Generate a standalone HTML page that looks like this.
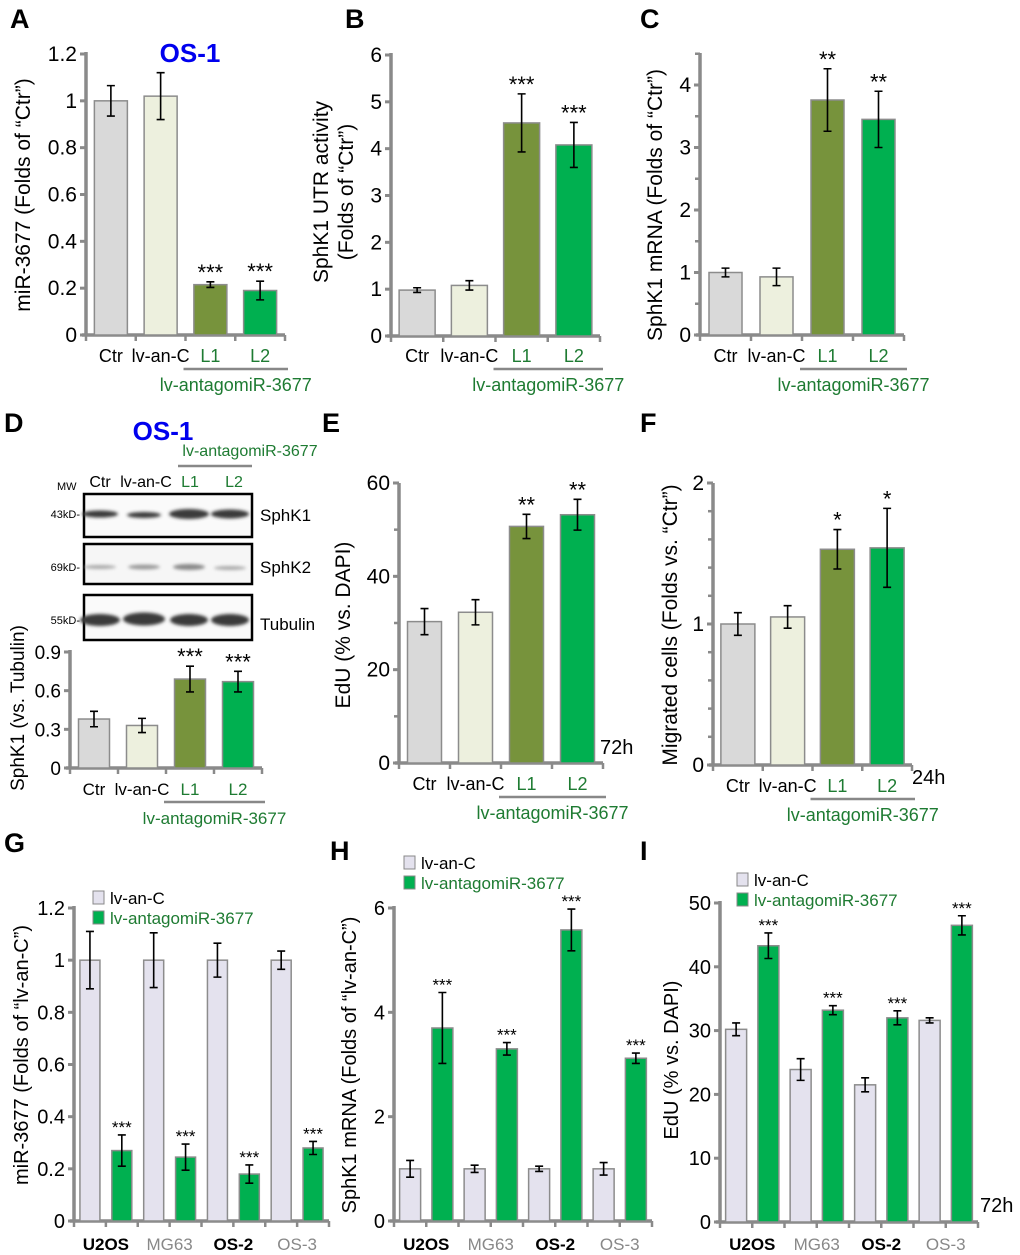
<!DOCTYPE html>
<html><head><meta charset="utf-8"><style>
body{margin:0;background:#fff}
svg{display:block;font-family:"Liberation Sans",Arial,sans-serif}
</style></head><body>
<svg id="fig" width="1020" height="1255" viewBox="0 0 1020 1255" xmlns="http://www.w3.org/2000/svg">
<defs><filter id="blur" x="-20%" y="-50%" width="140%" height="200%"><feGaussianBlur stdDeviation="1.6"/></filter></defs>
<g id="static" fill="#000">
<text x="10" y="28" font-size="27" font-weight="bold">A</text>
<text x="345" y="28" font-size="27" font-weight="bold">B</text>
<text x="640" y="28" font-size="27" font-weight="bold">C</text>
<text x="4" y="432" font-size="27" font-weight="bold">D</text>
<text x="322" y="432" font-size="27" font-weight="bold">E</text>
<text x="640" y="432" font-size="27" font-weight="bold">F</text>
<text x="4" y="852" font-size="27" font-weight="bold">G</text>
<text x="330" y="860" font-size="27" font-weight="bold">H</text>
<text x="640" y="860" font-size="27" font-weight="bold">I</text>
<text x="190" y="62" font-size="26" font-weight="bold" fill="#0000ee" text-anchor="middle">OS-1</text>
<text x="163" y="440" font-size="26" font-weight="bold" fill="#0000ee" text-anchor="middle">OS-1</text>
<text x="600" y="754" font-size="20">72h</text>
<text x="912" y="784" font-size="20">24h</text>
<text x="980" y="1212" font-size="20">72h</text>
<g>
<text x="250" y="456" font-size="16" fill="#1e7b32" text-anchor="middle">lv-antagomiR-3677</text>
<line x1="178" y1="466" x2="252" y2="466" stroke="#888" stroke-width="2.5"/>
<text x="57" y="490" font-size="11">MW</text>
<text x="100" y="487" font-size="16" text-anchor="middle">Ctr</text>
<text x="146" y="487" font-size="16" text-anchor="middle">lv-an-C</text>
<text x="190" y="487" font-size="16" text-anchor="middle" fill="#1e7b32">L1</text>
<text x="234" y="487" font-size="16" text-anchor="middle" fill="#1e7b32">L2</text>
<rect x="84" y="494" width="168" height="43" fill="#fafafa" stroke="#000" stroke-width="2.5"/>
<rect x="84" y="544" width="168" height="40" fill="#f6f6f6" stroke="#000" stroke-width="2.5"/>
<rect x="84" y="595" width="168" height="45" fill="#fafafa" stroke="#000" stroke-width="2.5"/>
<g filter="url(#blur)" fill="#3a3a3a">
<ellipse cx="100" cy="514" rx="18" ry="3.5"/><ellipse cx="144" cy="515" rx="17" ry="3"/><ellipse cx="189" cy="514" rx="20" ry="5"/><ellipse cx="230" cy="514" rx="19" ry="4.5"/>
<ellipse cx="100" cy="567" rx="16" ry="2" fill="#aaa"/><ellipse cx="144" cy="567" rx="16" ry="2.4" fill="#999"/><ellipse cx="189" cy="567" rx="16" ry="3" fill="#888"/><ellipse cx="230" cy="568" rx="16" ry="2" fill="#aaa"/>
<ellipse cx="100" cy="620" rx="20" ry="6"/><ellipse cx="144" cy="619" rx="21" ry="6.5"/><ellipse cx="189" cy="620" rx="19" ry="6"/><ellipse cx="230" cy="620" rx="19" ry="6"/>
</g>
<text x="80" y="518" font-size="11" text-anchor="end">43kD-</text>
<text x="80" y="571" font-size="11" text-anchor="end">69kD-</text>
<text x="80" y="624" font-size="11" text-anchor="end">55kD-</text>
<text x="260" y="521" font-size="17">SphK1</text>
<text x="260" y="573" font-size="17">SphK2</text>
<text x="260" y="630" font-size="17">Tubulin</text>
</g>
</g>
<g id="charts"></g>
</svg>
<script>
const catsAF = ["Ctr","lv-an-C","L1","L2"];
const aVals = [1.0, 1.02, 0.215, 0.19];
const aErrs = [0.065, 0.1, 0.012, 0.04];
const aStars = ["","","***","***"];
const aTicks = [0,0.2,0.4,0.6,0.8,1,1.2];
const bVals = [0.98, 1.08, 4.55, 4.08];
const bErrs = [0.05, 0.1, 0.62, 0.48];
const bStars = ["","","***","***"];
const bTicks = [0,1,2,3,4,5,6];
const cVals = [1.0, 0.93, 3.76, 3.45];
const cErrs = [0.07, 0.14, 0.5, 0.45];
const cStars = ["","","**","**"];
const cTicks = [0,1,2,3,4];
const dVals = [0.38, 0.33, 0.69, 0.67];
const dErrs = [0.06, 0.055, 0.1, 0.08];
const dStars = ["","","***","***"];
const dTicks = [0,0.3,0.6,0.9];
const eVals = [30.3, 32.3, 50.7, 53.2];
const eErrs = [2.8, 2.7, 2.6, 3.3];
const eStars = ["","","**","**"];
const eTicks = [0,20,40,60];
const fVals = [1.0, 1.05, 1.53, 1.54];
const fErrs = [0.08, 0.08, 0.14, 0.28];
const fStars = ["","","*","*"];
const fTicks = [0,1,2];
const cellLines = ["U2OS","MG63","OS-2","OS-3"];
const gCtrl = [1.0, 1.0, 1.0, 1.0];
const gCtrlErr = [0.11, 0.105, 0.065, 0.035];
const gAnta = [0.27, 0.245, 0.18, 0.28];
const gAntaErr = [0.06, 0.05, 0.035, 0.025];
const gTicks = [0,0.2,0.4,0.6,0.8,1,1.2];
const hCtrl = [1.0, 1.0, 1.0, 1.0];
const hCtrlErr = [0.16, 0.07, 0.05, 0.12];
const hAnta = [3.7, 3.3, 5.58, 3.12];
const hAntaErr = [0.68, 0.12, 0.4, 0.1];
const hTicks = [0,2,4,6];
const iCtrl = [30.2, 23.9, 21.5, 31.6];
const iCtrlErr = [1.0, 1.7, 1.1, 0.4];
const iAnta = [43.3, 33.2, 32.0, 46.5];
const iAntaErr = [2.0, 0.7, 1.1, 1.5];
const iTicks = [0,10,20,30,40,50];

const NS="http://www.w3.org/2000/svg";
const root=document.getElementById('charts');
function el(tag,attrs,parent,txt){const e=document.createElementNS(NS,tag);for(const k in attrs)e.setAttribute(k,attrs[k]);if(txt!==undefined)e.textContent=txt;(parent||root).appendChild(e);return e;}
const AX="#8a8a8a";
const GREEN_TXT="#1e7b32";

function axes(g,c){
  const yp=v=>c.y0-(v/c.vmax)*(c.y0-c.yTopPx);
  el('line',{x1:c.ax,y1:c.y0+1,x2:c.ax,y2:c.axTop,stroke:AX,'stroke-width':3.5},g);
  el('line',{x1:c.ax-4,y1:c.y0,x2:c.xEnd,y2:c.y0,stroke:AX,'stroke-width':3.5},g);
  const minor=c.minor||0;
  if(minor){for(let v=0;v<=c.vmax*1.0001+c.extraTop;v+=minor){const y=yp(v);el('line',{x1:c.ax-5,y1:y,x2:c.ax,y2:y,stroke:AX,'stroke-width':2.5},g);}}
  c.ticks.forEach(t=>{const y=yp(t);
    el('line',{x1:c.ax-6,y1:y,x2:c.ax,y2:y,stroke:AX,'stroke-width':3},g);
    const tx=el('text',{x:c.ax-9,y:y+7,'font-size':c.tickFs||21,'text-anchor':'end'},g,String(t));
    
    
  });
  const n=c.nSlots;
  for(let i=0;i<=n;i++){const x=c.ax+(c.xEnd-c.ax)*i/n;el('line',{x1:x,y1:c.y0,x2:x,y2:c.y0+6,stroke:AX,'stroke-width':2.5},g);}
  return yp;
}
function bar(g,x,w,v,e,col,yp,star,starFs,nm){
  const r=el('rect',{x:x,y:yp(v),width:w,height:yp(0)-yp(v),fill:col,stroke:'#8c8c8c','stroke-width':1.5},g);
  
  
  const cx=x+w/2,t=yp(v+e),b=yp(v-e);
  const eb=el('path',{d:`M${cx-4},${t}H${cx+4}M${cx},${t}V${b}M${cx-4},${b}H${cx+4}`,stroke:'#000','stroke-width':1.6,fill:'none'},g);
  
  
  if(star){const s=el('text',{x:cx,y:t-2,'font-size':starFs,'text-anchor':'middle'},g,star);
    
    }
}
function ytitle(g,x,y,lines,fs){
  lines.forEach((l,i)=>{const t=el('text',{x:0,y:0,'font-size':fs,'text-anchor':'middle',transform:`translate(${x+i*(fs+4)},${y}) rotate(-90)`},g,l);
    
    });
}
const colsAF=["#d9d9d9","#edf0de","#77933c","#00b050"];
function panel4(name,c,vals,errs,stars){
  const g=el('g',{});
  
  
  c.nSlots=4;
  const yp=axes(g,c);
  const slot=(c.xEnd-c.ax)/4;
  vals.forEach((v,i)=>{const x=c.ax+slot*i+(slot-c.bw)/2;bar(g,x,c.bw,v,errs[i],colsAF[i],yp,stars[i],c.starFs||22,'bar-'+catsAF[i].toLowerCase());});
  catsAF.forEach((k,i)=>{const cx=c.ax+slot*i+slot/2;
    const t=el('text',{x:cx,y:c.labY,'font-size':c.labFs||18,'text-anchor':'middle',fill:i>1?GREEN_TXT:'#000'},g,k);
    
    });
  const x1=c.ax+slot*2-2,x2=c.xEnd+3;
  el('line',{x1:x1,y1:c.labY+7,x2:x2,y2:c.labY+7,stroke:'#888','stroke-width':2.5},g);
  const gl=el('text',{x:(x1+x2)/2,y:c.labY+29,'font-size':c.labFs||18,'text-anchor':'middle',fill:GREEN_TXT},g,'lv-antagomiR-3677');
  
  
  ytitle(g,c.tx,c.ty,c.title,c.titleFs||21);
}
panel4('panel-a',{ax:86,y0:335,yTopPx:54,vmax:1.2,axTop:52,xEnd:285,extraTop:0,ticks:aTicks,bw:33,labY:362,tx:30,ty:195,title:["miR-3677 (Folds of “Ctr”)"]},aVals,aErrs,aStars);
panel4('panel-b',{ax:391,y0:336,yTopPx:55,vmax:6,axTop:53,xEnd:600,extraTop:0,ticks:bTicks,bw:36,labY:362,tx:328,ty:192,title:["SphK1 UTR activity","(Folds of “Ctr”)"]},bVals,bErrs,bStars);
panel4('panel-c',{ax:700,y0:335,yTopPx:85,vmax:4,axTop:53,xEnd:904,extraTop:0.5,minor:0.5,ticks:cTicks,bw:33,labY:362,tx:662,ty:205,title:["SphK1 mRNA (Folds of “Ctr”)"]},cVals,cErrs,cStars);
panel4('panel-d-chart',{ax:70,y0:768,yTopPx:652,vmax:0.9,axTop:650,xEnd:262,extraTop:0,ticks:dTicks,bw:31,labY:795,tx:24,ty:708,title:["SphK1 (vs. Tubulin)"],labFs:17,tickFs:19,titleFs:19},dVals,dErrs,dStars);
panel4('panel-e',{ax:399,y0:763,yTopPx:483,vmax:60,axTop:483,xEnd:603,extraTop:0,minor:10,ticks:eTicks,bw:34,labY:790,tx:350,ty:625,title:["EdU (% vs. DAPI)"]},eVals,eErrs,eStars);
panel4('panel-f',{ax:713,y0:765,yTopPx:483,vmax:2,axTop:483,xEnd:912,extraTop:0,minor:0.2,ticks:fTicks,bw:34,labY:792,tx:677,ty:625,title:["Migrated cells (Folds vs. “Ctr”)"]},fVals,fErrs,fStars);

function panelPair(name,c,ctrl,ce,anta,ae){
  const g=el('g',{});
  
  
  c.nSlots=8;c.extraTop=0;c.tickFs=20;
  const yp=axes(g,c);
  const slot=(c.xEnd-c.ax)/8;
  for(let i=0;i<4;i++){
    bar(g,c.ax+slot*(2*i)+(slot-c.bw)/2,c.bw,ctrl[i],ce[i],'#e4e2ee',yp,'',17,'bar-lv-an-c-'+cellLines[i].toLowerCase());
    bar(g,c.ax+slot*(2*i+1)+(slot-c.bw)/2,c.bw,anta[i],ae[i],'#00b050',yp,'***',17,'bar-antagomir-'+cellLines[i].toLowerCase());
    const t=el('text',{x:c.ax+slot*(2*i+1),y:1250,'font-size':17,'text-anchor':'middle','font-weight':i%2?'normal':'bold',fill:i%2?'#888':'#000'},g,cellLines[i]);
    
    
  }
  const lg=el('g',{},g);
  
  
  el('rect',{x:c.lx,y:c.ly,width:11,height:13,fill:'#e4e2ee',stroke:'#888'},lg);
  el('text',{x:c.lx+17,y:c.ly+13,'font-size':17},lg,'lv-an-C');
  el('rect',{x:c.lx,y:c.ly+20,width:11,height:13,fill:'#00b050',stroke:'#888'},lg);
  el('text',{x:c.lx+17,y:c.ly+33,'font-size':17,fill:GREEN_TXT},lg,'lv-antagomiR-3677');
  ytitle(g,c.tx,c.ty,[c.title],20);
}
panelPair('panel-g',{ax:74,y0:1221,yTopPx:908,vmax:1.2,axTop:906,xEnd:329,ticks:gTicks,bw:20,lx:93,ly:891,tx:28,ty:1055,title:"miR-3677 (Folds of “lv-an-C”)"},gCtrl,gCtrlErr,gAnta,gAntaErr);
panelPair('panel-h',{ax:394,y0:1221,yTopPx:908,vmax:6,axTop:906,xEnd:652,ticks:hTicks,bw:21,lx:404,ly:856,tx:356,ty:1065,title:"SphK1 mRNA (Folds of “lv-an-C”)"},hCtrl,hCtrlErr,hAnta,hAntaErr);
panelPair('panel-i',{ax:720,y0:1222,yTopPx:903,vmax:50,axTop:901,xEnd:978,ticks:iTicks,bw:21,lx:737,ly:873,tx:678,ty:1060,title:"EdU (% vs. DAPI)"},iCtrl,iCtrlErr,iAnta,iAntaErr);
</script>
</body></html>
